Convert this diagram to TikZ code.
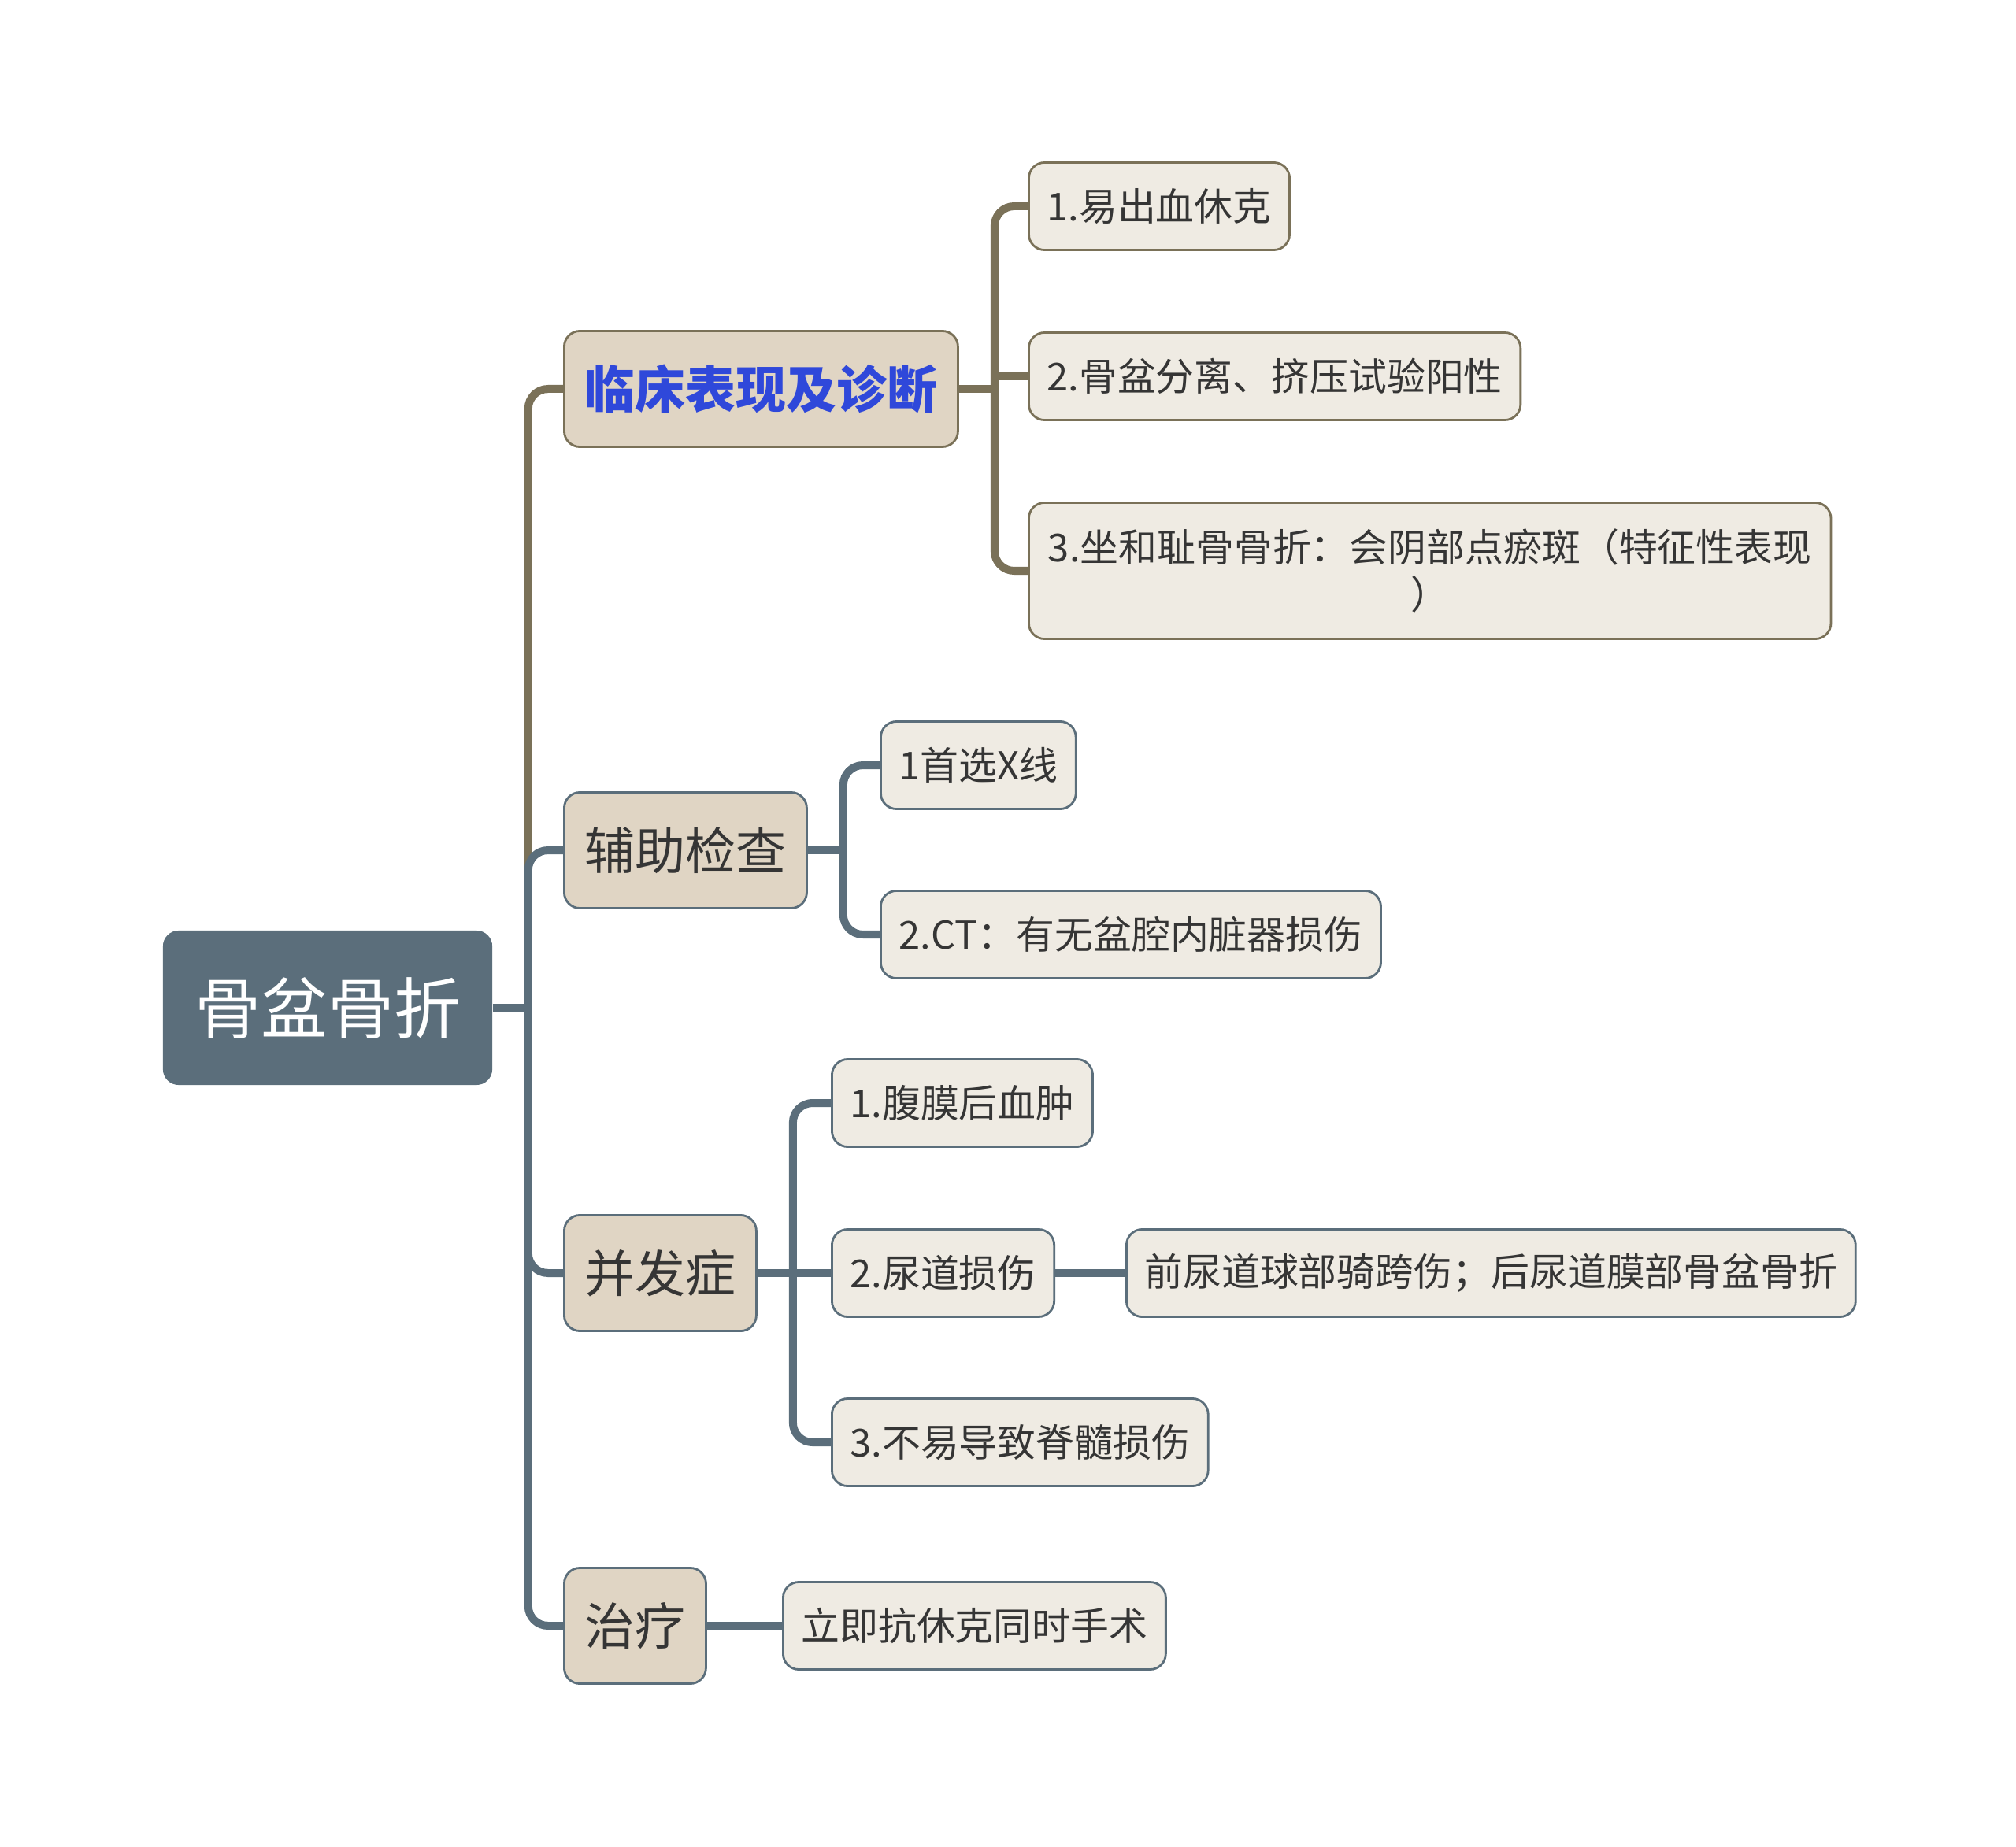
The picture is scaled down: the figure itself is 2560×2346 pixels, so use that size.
\documentclass[tikz,border=0pt]{standalone}
\usepackage{fontspec}
\setmainfont{Noto Sans CJK SC}
\usetikzlibrary{calc}
\definecolor{brBrown}{HTML}{7A7158}
\definecolor{brSlate}{HTML}{5B6E7B}
\definecolor{fillTopic}{HTML}{E0D5C4}
\definecolor{fillLeaf}{HTML}{EFEBE3}
\definecolor{txtDark}{HTML}{353535}
\definecolor{txtBlue}{HTML}{2F48DA}
\newcommand{\fsRoot}{\fontsize{24pt}{28pt}\selectfont}
\newcommand{\fsTopic}{\fontsize{18.2pt}{22pt}\selectfont}
\newcommand{\fsLeaf}{\fontsize{13.9pt}{17pt}\selectfont}

\begin{document}
\begin{tikzpicture}[x=0.01cm,y=-0.01cm,every node/.style={font=\fsLeaf,text=txtDark},
    rootbox/.style={fill=brSlate,rounded corners=0.2cm,text=white,font=\fsRoot,minimum width=4.18cm,minimum height=1.96cm},
    topic/.style={draw=#1,line width=0.8pt,rounded corners=0.2cm,fill=fillTopic,inner xsep=0.26cm,minimum height=1.47cm,font=\fsTopic,anchor=west},
    leaf/.style={draw=#1,line width=0.8pt,rounded corners=0.2cm,fill=fillLeaf,inner xsep=0.23cm,minimum height=1.11cm,align=center,anchor=west},
    link/.style={draw=#1,line width=0.1cm,rounded corners=0.25cm}]
  \useasboundingbox (0,0) rectangle (2560,2346);
  % ---- root ----
  \node[rootbox] (gp) at (416,1280) {骨盆骨折};
  % ---- main topics ----
  \node[topic=brBrown,text=txtBlue,font=\fsTopic\bfseries] (lc) at (715,494) {临床表现及诊断};
  \node[topic=brSlate] (fz) at (715,1080) {辅助检查};
  \node[topic=brSlate] (bf) at (715,1617) {并发症};
  \node[topic=brSlate] (zl) at (715,2065) {治疗};
  % ---- clinical signs ----
  \node[leaf=brBrown] (lc1) at (1305,262) {1.易出血休克};
  \node[leaf=brBrown] (lc2) at (1305,478) {2.骨盆分离、挤压试验阳性};
  \node[leaf=brBrown,minimum height=1.73cm,minimum width=10.18cm] (lc3) at (1305,725)
       {3.坐和耻骨骨折：会阴部点瘀斑（特征性表现\\）};
  % ---- examinations ----
  \node[leaf=brSlate] (fz1) at (1117,972) {1首选X线};
  \node[leaf=brSlate] (fz2) at (1117,1187) {2.CT：有无盆腔内脏器损伤};
  % ---- complications ----
  \node[leaf=brSlate] (bf1) at (1055,1401) {1.腹膜后血肿};
  \node[leaf=brSlate] (bf2) at (1055,1617) {2.尿道损伤};
  \node[leaf=brSlate] (bf2a) at (1429,1617) {前尿道球部骑跨伤；后尿道膜部骨盆骨折};
  \node[leaf=brSlate] (bf3) at (1055,1832) {3.不易导致脊髓损伤};
  % ---- treatment ----
  \node[leaf=brSlate] (zl1) at (993,2065) {立即抗休克同时手术};
  % ---- junctions ----
  \coordinate (jgp) at ($(gp.east)+(45,0)$);
  \coordinate (jlc) at ($(lc.east)+(45,0)$);
  \coordinate (jfz) at ($(fz.east)+(45,0)$);
  \coordinate (jbf) at ($(bf.east)+(45,0)$);
  % ---- connectors ----
  \draw[link=brBrown] (jgp) |- (lc.west);
  \draw[link=brSlate] (gp.east) -- (jgp); \draw[link=brSlate] (jgp) |- (fz.west);
  \draw[link=brSlate] (jgp) |- (bf.west); \draw[link=brSlate] (jgp) |- (zl.west);
  \draw[link=brBrown] (lc.east) -- (jlc); \draw[link=brBrown] (jlc) |- (lc1.west);
  \draw[link=brBrown,sharp corners] (jlc) |- (lc2.west); \draw[link=brBrown] (jlc) |- (lc3.west);
  \draw[link=brSlate] (fz.east) -- (jfz); \draw[link=brSlate] (jfz) |- (fz1.west);
  \draw[link=brSlate] (jfz) |- (fz2.west);
  \draw[link=brSlate] (bf.east) -- (jbf); \draw[link=brSlate] (jbf) |- (bf1.west);
  \draw[link=brSlate] (jbf) -- (bf2.west); \draw[link=brSlate] (jbf) |- (bf3.west);
  \draw[link=brSlate] (bf2) -- (bf2a);
  \draw[link=brSlate] (zl) -- (zl1);
\end{tikzpicture}
\end{document}
